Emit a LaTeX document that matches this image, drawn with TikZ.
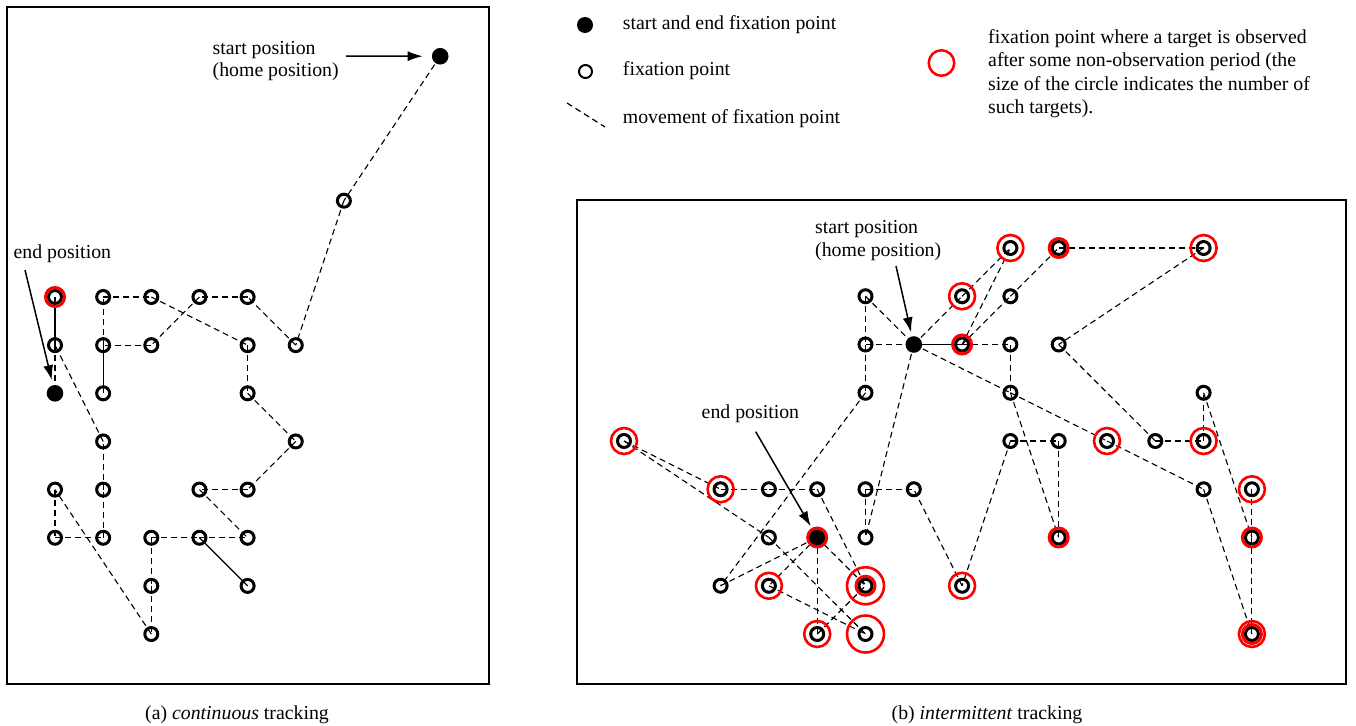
\documentclass[tikz,border=0pt]{standalone}
\usepackage{fontspec}
\setmainfont{Liberation Serif}
\usetikzlibrary{arrows.meta}
\newcommand\LN[4][fx]{\node[#1] (#2) at ({55+48.15*(#3)},{297+48.15*(#4)}) {};}
\newcommand\RN[4][fx]{\node[#1] (#2) at ({624+48.3*(#3)},{248+48.25*(#4)}) {};}
\begin{document}
\begin{tikzpicture}[x=1pt,y=-1pt,
  fx/.style={circle,draw=black,line width=3pt,minimum size=13pt,inner sep=0pt},
  fs/.style={circle,fill=black,minimum size=16.6pt,inner sep=0pt},
  mv/.style={line width=1.1pt,dash pattern=on 6pt off 4pt},
  sm/.style={line width=1.3pt},
  rs/.style={draw=red,line width=3pt},
  rm/.style={draw=red,line width=2.6pt},
  frame/.style={line width=1.2pt},
  txt/.style={inner sep=0pt,anchor=base west,font=\fontsize{19.8pt}{23pt}\selectfont},
  arr/.style={line width=1.5pt,-{Latex[length=15pt,width=10pt]}},
]
\useasboundingbox (0,0) rectangle (1356,725);

% frames
\draw[frame] (7,7) rectangle (489,684);
\draw[frame] (577,200) rectangle (1346,684);

% ---------------- left panel nodes
\LN{L00}{0}{0} \LN{L01}{0}{1} \LN[fs]{L02}{0}{2}
\LN{L10}{1}{0} \LN{L20}{2}{0} \LN{L30}{3}{0} \LN{L40}{4}{0}
\LN{L11}{1}{1} \LN{L21}{2}{1} \LN{L41}{4}{1} \LN{L51}{5}{1}
\LN{L12}{1}{2} \LN{L42}{4}{2}
\LN{L13}{1}{3} \LN{L53}{5}{3}
\LN{L04}{0}{4} \LN{L14}{1}{4} \LN{L34}{3}{4} \LN{L44}{4}{4}
\LN{L05}{0}{5} \LN{L15}{1}{5} \LN{L25}{2}{5} \LN{L35}{3}{5} \LN{L45}{4}{5}
\LN{L26}{2}{6} \LN{L46}{4}{6}
\LN{L27}{2}{7}
\LN{L6u}{6}{-2}
\LN[fs]{Ls}{8}{-5}

\foreach \a/\b in {Ls/L6u, L6u/L51, L51/L40, L40/L30, L30/L21, L21/L11, L11/L10, L10/L20,
  L20/L41, L41/L42, L42/L53, L53/L44, L44/L34, L34/L45, L25/L35, L35/L45, L25/L26, L26/L27,
  L27/L04, L04/L05, L05/L15, L15/L14, L14/L13, L13/L01, L01/L02}
  \draw[mv] (\a.center) -- (\b.center);
\foreach \a/\b in {L00/L01, L11/L12, L35/L46}
  \draw[sm] (\a.center) -- (\b.center);

% ---------------- right panel nodes
\RN{R8x0}{8}{0} \RN{R9x0}{9}{0} \RN{R12x0}{12}{0}
\RN{R5x1}{5}{1} \RN{R7x1}{7}{1} \RN{R8x1}{8}{1}
\RN{R5x2}{5}{2} \RN[fs]{R6x2}{6}{2} \RN{R7x2}{7}{2} \RN{R8x2}{8}{2} \RN{R9x2}{9}{2}
\RN{R5x3}{5}{3} \RN{R8x3}{8}{3} \RN{R12x3}{12}{3}
\RN{R0x4}{0}{4} \RN{R8x4}{8}{4} \RN{R9x4}{9}{4} \RN{R10x4}{10}{4} \RN{R11x4}{11}{4} \RN{R12x4}{12}{4}
\RN{R2x5}{2}{5} \RN{R3x5}{3}{5} \RN{R4x5}{4}{5} \RN{R5x5}{5}{5} \RN{R6x5}{6}{5} \RN{R12x5}{12}{5} \RN{R13x5}{13}{5}
\RN{R3x6}{3}{6} \RN[fs]{R4x6}{4}{6} \RN{R5x6}{5}{6} \RN{R9x6}{9}{6} \RN{R13x6}{13}{6}
\RN{R2x7}{2}{7} \RN{R3x7}{3}{7} \RN{R5x7}{5}{7} \RN{R7x7}{7}{7}
\RN{R4x8}{4}{8} \RN{R5x8}{5}{8} \RN{R13x8}{13}{8}

\foreach \a/\b in {R5x1/R5x2, R5x2/R5x3, R5x2/R6x2, R5x1/R6x2, R6x2/R7x1, R7x1/R8x0,
  R7x2/R8x0, R7x2/R8x1, R8x1/R9x0, R9x0/R12x0, R12x0/R9x2, R9x2/R11x4, R11x4/R12x4,
  R12x4/R12x3, R12x3/R13x6, R13x5/R13x6, R13x6/R13x8, R12x5/R13x8, R10x4/R12x5,
  R6x2/R8x3, R8x3/R10x4, R7x2/R8x2, R8x2/R8x3, R8x3/R9x6, R8x4/R9x4, R9x4/R9x6,
  R8x4/R7x7, R7x7/R6x5, R5x5/R6x5, R5x5/R5x6, R6x2/R5x6, R5x3/R2x7, R2x7/R4x6,
  R0x4/R2x5, R0x4/R3x6, R2x5/R3x5, R3x5/R4x5, R4x5/R5x7, R3x6/R5x8, R4x6/R3x7,
  R4x6/R4x8, R4x6/R5x7, R3x7/R5x8, R4x8/R5x7}
  \draw[mv] (\a.center) -- (\b.center);
\draw[sm] (R6x2.center) -- (R7x2.center);

% red rings
\foreach \n in {L00,R9x0,R7x2,R4x6,R9x6,R13x6,R5x7,R13x8}
  \draw[rs] (\n.center) circle[radius=9.5pt];
\foreach \n in {R8x0,R12x0,R7x1,R0x4,R10x4,R12x4,R2x5,R13x5,R3x7,R7x7,R4x8,R13x8}
  \draw[rm] (\n.center) circle[radius=13pt];
\foreach \n in {R5x7,R5x8}
  \draw[rm] (\n.center) circle[radius=18.5pt];

% labels and arrows, left
\node[txt] (lendt) at (13.5,258.3) {end position};
\node[txt] (lst1) at (212.5,54.3) {start position};
\node[txt] (lst2) at (212.5,76.7) {(home position)};
\coordinate (la1) at (346,56);
\draw[arr,shorten >=9pt] (la1) -- (Ls);
\coordinate (la2) at (25,270);
\draw[arr,shorten >=5pt] (la2) -- (L02);

% labels and arrows, right
\node[txt] (rst1) at (815,233.3) {start position};
\node[txt] (rst2) at (815,256) {(home position)};
\coordinate (ra1) at (896,266);
\draw[arr,shorten >=4pt] (ra1) -- (R6x2);
\node[txt] (rendt) at (701.5,418.3) {end position};
\coordinate (ra2) at (755.7,431.7);
\draw[arr,shorten >=4.5pt] (ra2) -- (R4x6);

% legend
\node[fs,minimum size=16pt] (lg1) at (585,25) {};
\node[txt] (lg1t) at (622.7,30) {start and end fixation point};
\node[circle,draw,line width=2pt,minimum size=13pt,inner sep=0pt] (lg2) at (585.5,71.5) {};
\node[txt] (lg2t) at (622.7,75) {fixation point};
\coordinate (lg3a) at (567,103);
\coordinate (lg3b) at (605,127);
\draw[mv,line width=1.2pt] (lg3a) -- (lg3b);
\node[txt] (lg3t) at (622.7,123) {movement of fixation point};
\node[circle,draw=red,line width=2.5pt,minimum size=25.5pt,inner sep=0pt] (lg4) at (941.5,63) {};
\node[txt] (lg4a) at (988,43.3) {fixation point where a target is observed};
\node[txt] (lg4b) at (988,66.7) {after some non-observation period (the};
\node[txt] (lg4c) at (988,90) {size of the circle indicates the number of};
\node[txt] (lg4d) at (988,113) {such targets).};

% captions
\node[txt,anchor=base] (capa) at (237,719) {(a) \textit{continuous} tracking};
\node[txt,anchor=base] (capb) at (987,719) {(b) \textit{intermittent} tracking};
\end{tikzpicture}
\end{document}
